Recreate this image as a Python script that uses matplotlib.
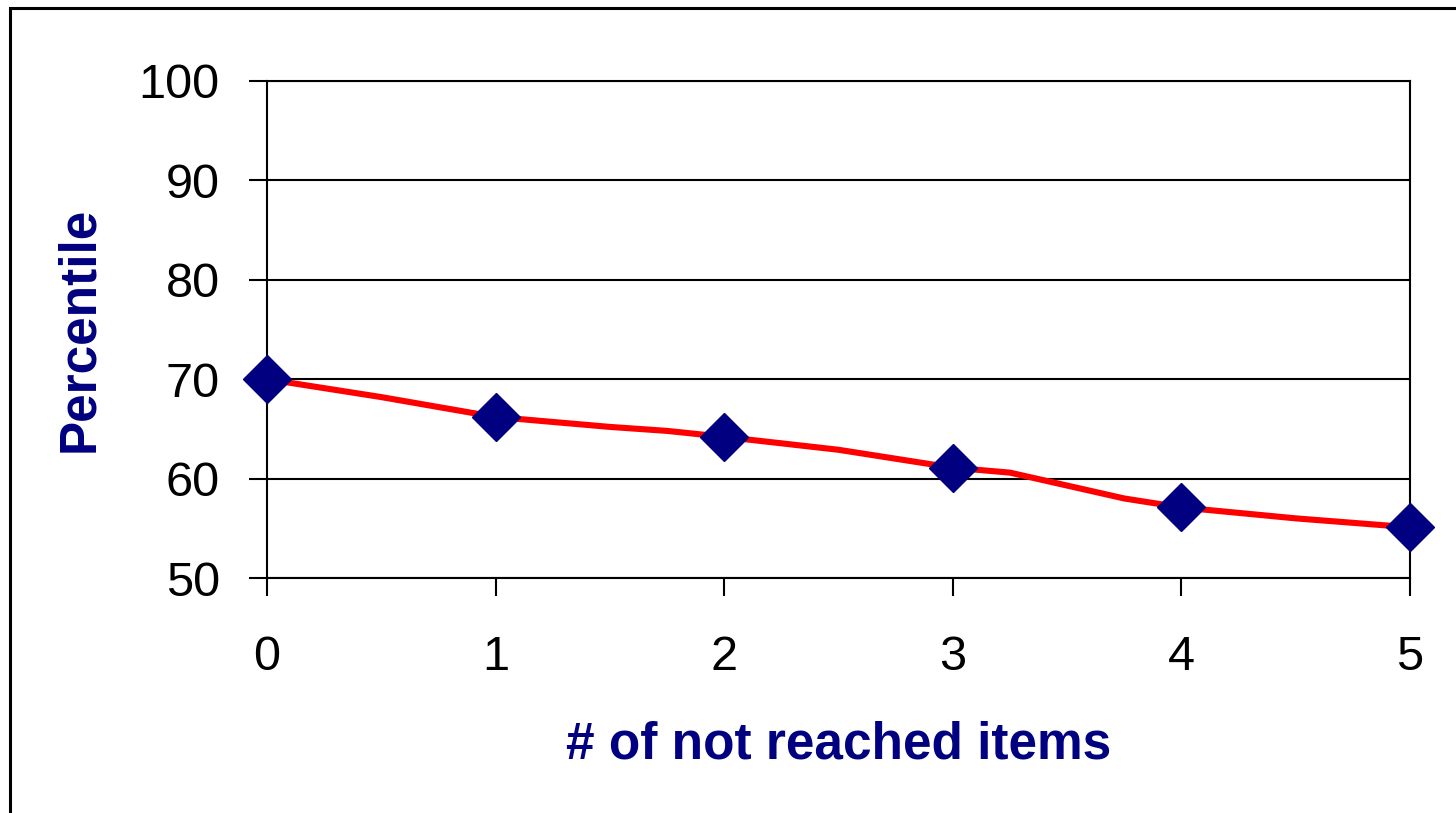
import matplotlib
matplotlib.use("Agg")
import matplotlib.pyplot as plt
from matplotlib.patches import Rectangle

# data
items = [0, 1, 2, 3, 4, 5]
percentile = [70.0, 66.2, 64.2, 61.1, 57.1, 55.1]

# smoothed red trend line (its own points)
trend_x = [0, 0.5, 0.75, 1, 1.5, 1.75, 2, 2.5, 3, 3.25, 3.75, 4, 4.5, 5]
trend_y = [70.0, 68.2, 67.2, 66.2, 65.2, 64.8, 64.2, 62.9, 61.1, 60.6, 58.0, 57.1, 56.0, 55.1]

navy = "#000080"
plt.rcParams["font.family"] = ["Liberation Sans", "DejaVu Sans"]

fig = plt.figure(figsize=(14.56, 8.13), dpi=100)
ax = fig.add_axes([267 / 1456, 1 - 578 / 813, (1410 - 267) / 1456, (578 - 81) / 813])

# outer chart border (cropped on right and bottom)
fig.patches.append(Rectangle((9.5 / 1456, -0.1), 1.2, 1.1 - 8 / 813,
                             transform=fig.transFigure, fill=False,
                             edgecolor="black", linewidth=2.2, zorder=0))

ax.plot(trend_x, trend_y, color="#ff0000", linewidth=4.4, zorder=3,
        solid_joinstyle="round", clip_on=False)
ax.plot(items, percentile, linestyle="none", marker="D", markersize=24,
        color=navy, zorder=4, clip_on=False)

ax.set_xlim(0, 5)
ax.set_ylim(50, 100)
ax.set_xticks(items)
ax.set_yticks(range(50, 101, 10))
ax.grid(axis="y", color="black", linewidth=1.5)
ax.set_axisbelow(True)

for s in ax.spines.values():
    s.set_linewidth(1.5)
    s.set_color("black")

ax.tick_params(axis="both", direction="out", length=13, width=1.5,
               labelsize=35, colors="black")
ax.tick_params(axis="y", pad=21)
ax.tick_params(axis="x", pad=28)

ax.set_ylabel("Percentile", fontsize=37, fontweight="bold", color=navy, labelpad=25)
ax.set_xlabel("# of not reached items", fontsize=37, fontweight="bold", color=navy, labelpad=29)

fig.savefig("out.png", dpi=100)
